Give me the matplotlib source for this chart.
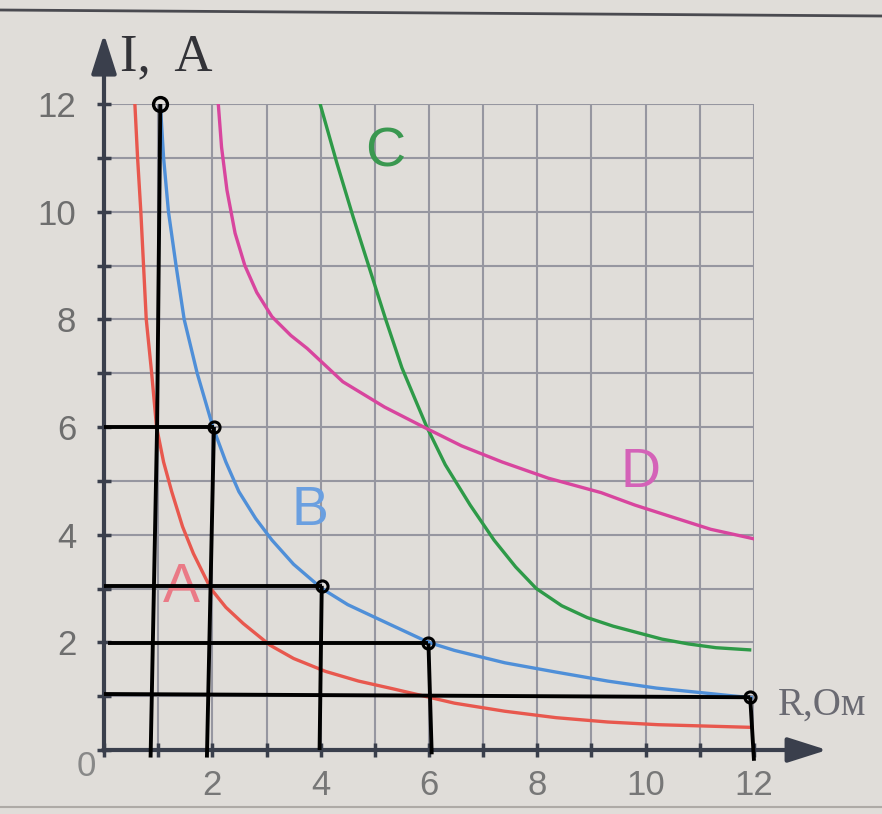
import matplotlib.pyplot as plt
from matplotlib.lines import Line2D
from matplotlib.ticker import MultipleLocator

# values (R in Ohm, I in A)
r_a = [0.57, 0.62, 0.68, 0.73, 0.78, 0.88, 0.97, 1.1, 1.25, 1.45, 1.65, 1.97, 2.25, 2.57,
       3.06, 3.5, 4.09, 4.7, 5.32, 6.47, 7.4, 8.35, 9.3, 10.23, 11.97]
i_a = [12, 11, 10, 9, 8, 7, 6, 5.35, 4.8, 4.15, 3.65, 3.0, 2.65, 2.35,
       1.95, 1.7, 1.46, 1.28, 1.14, 0.87, 0.72, 0.6, 0.52, 0.47, 0.42]

r_b = [1.04, 1.10, 1.19, 1.33, 1.48, 1.72, 2.01, 2.25, 2.49, 2.8, 3.10, 3.5, 4.02, 4.5,
       5.03, 5.99, 6.47, 7.4, 8.33, 9.3, 10.2, 11.95]
i_b = [12, 11, 10, 9, 8, 7, 6, 5.35, 4.8, 4.3, 3.9, 3.45, 3.0, 2.7,
       2.45, 2.0, 1.85, 1.62, 1.45, 1.28, 1.15, 0.97]

r_c = [3.99, 4.3, 4.6, 4.9, 5.2, 5.5, 5.75, 5.96, 6.3, 6.76, 7.2, 7.6, 7.98, 8.45,
       8.92, 9.4, 9.85, 10.3, 10.79, 11.3, 11.92]
i_c = [12, 10.9, 9.9, 8.95, 8.0, 7.1, 6.5, 6.0, 5.3, 4.55, 3.9, 3.4, 3.0, 2.68,
       2.46, 2.3, 2.18, 2.06, 1.97, 1.9, 1.86]

r_d = [2.11, 2.17, 2.27, 2.42, 2.6, 2.82, 3.1, 3.45, 3.75, 4.41, 5.18, 5.9, 6.6, 7.35, 8.2,
       9.18, 9.8, 10.42, 11.2, 12.01]
i_d = [12, 11.2, 10.4, 9.6, 9.0, 8.5, 8.05, 7.7, 7.46, 6.84, 6.37, 6.0, 5.65, 5.35, 5.05,
       4.78, 4.55, 4.35, 4.1, 3.92]

# hand drawn black guide lines and the circled points on B
guide_x = [[1.04, 0.98, 0.86], [0, 2.03], [2.03, 1.90], [0, 4.02], [4.02, 3.98],
           [0.08, 5.99], [5.99, 6.05], [0, 11.93], [11.93, 12.0]]
guide_y = [[12, 6, -0.14], [6, 6], [6, -0.14], [3.05, 3.05], [3.05, 0],
           [1.98, 1.98], [1.98, -0.08], [1.04, 0.98], [0.98, -0.2]]
mark_r = [1.04, 2.03, 4.02, 5.99, 11.93]
mark_i = [12, 6, 3.05, 1.98, 0.98]

curve_names = ["A", "B", "C", "D"]
label_r = [1.43, 3.80, 5.2, 9.9]
label_i = [3.0, 4.44, 11.1, 5.14]

bg = "#e0ddd9"
axis_col = "#3a3f4c"

fig = plt.figure(figsize=(8.82, 8.14), dpi=100)
fig.patch.set_facecolor(bg)
ax = fig.add_axes([104 / 882, 64 / 814, 650 / 882, 646 / 814])
ax.set_facecolor(bg)
ax.set_xlim(0, 12)
ax.set_ylim(0, 12)

for s in ax.spines.values():
    s.set_visible(False)

ax.xaxis.set_major_locator(MultipleLocator(2))
ax.xaxis.set_minor_locator(MultipleLocator(1))
ax.yaxis.set_major_locator(MultipleLocator(2))
ax.yaxis.set_minor_locator(MultipleLocator(1))
ax.set_axisbelow(True)
ax.grid(which="both", color="#9696a0", lw=1.5)
ax.tick_params(which="both", direction="inout", length=10, width=2.5, color=axis_col)
ax.tick_params(axis="x", which="major", labelsize=25, labelcolor="#777777", pad=9)
ax.tick_params(axis="y", which="major", labelsize=25, labelcolor="#6e6e6e", pad=15)
ax.xaxis.set_major_formatter(lambda v, p: "" if v == 0 else f"{v:.0f}")
ax.yaxis.set_major_formatter(lambda v, p: "" if v == 0 else f"{v:.0f}")
for lab in ax.get_xticklabels() + ax.get_yticklabels():
    lab.set_family("Liberation Sans")

# axes with arrows
arrow = dict(arrowstyle="-|>,head_length=1.1,head_width=0.35", color=axis_col,
             lw=3, mutation_scale=22, shrinkA=0, shrinkB=0)
ax.annotate("", xy=(0, 13.3), xytext=(0, -0.02), arrowprops=arrow, annotation_clip=False)
ax.annotate("", xy=(13.35, 0), xytext=(-0.02, 0), arrowprops=arrow, annotation_clip=False)

# curves
ax.plot(r_a, i_a, color="#e8584e", lw=2.4, zorder=3)
ax.plot(r_b, i_b, color="#4f8fd8", lw=2.4, zorder=3)
ax.plot(r_c, i_c, color="#2e9a48", lw=2.4, zorder=3)
ax.plot(r_d, i_d, color="#d8459e", lw=2.4, zorder=3)

label_cols = ["#ea7a86", "#6a9fe0", "#3a9850", "#d462b8"]
for name, x, y, c in zip(curve_names, label_r, label_i, label_cols):
    ax.text(x, y, name, color=c, fontsize=40, family="Liberation Sans",
            ha="center", va="center", zorder=3)

# black guide lines
for xs, ys in zip(guide_x, guide_y):
    ax.plot(xs, ys, color="black", lw=2.8, clip_on=False, zorder=4,
            solid_capstyle="butt")
ax.plot(mark_r[:1], mark_i[:1], "o", ms=10, mfc="none", mec="black", mew=2.4,
        clip_on=False, zorder=5)
ax.plot(mark_r[1:], mark_i[1:], "o", ms=8, mfc="none", mec="black", mew=2.2,
        clip_on=False, zorder=5)

# axis titles
ax.text(1.15, 12.86, "I,  A", fontsize=38, family="Liberation Serif",
        color="#333338", ha="center", va="center")
ax.text(12.45, 0.84, "R,Ом", fontsize=28, family="Liberation Serif",
        color="#6a6a72", ha="left", va="center")
ax.text(-0.33, -0.3, "0", fontsize=25, family="Liberation Sans",
        color="#888888", ha="center", va="center")

# edges of the photographed page
fig.add_artist(Line2D([0, 1], [1 - 10 / 814, 1 - 16 / 814], transform=fig.transFigure,
                      color="#4a4a50", lw=2))
fig.add_artist(Line2D([0, 1], [7 / 814, 7 / 814], transform=fig.transFigure,
                      color="#aeaaa6", lw=1.5))

fig.savefig("out.png", dpi=100, facecolor=fig.get_facecolor())
